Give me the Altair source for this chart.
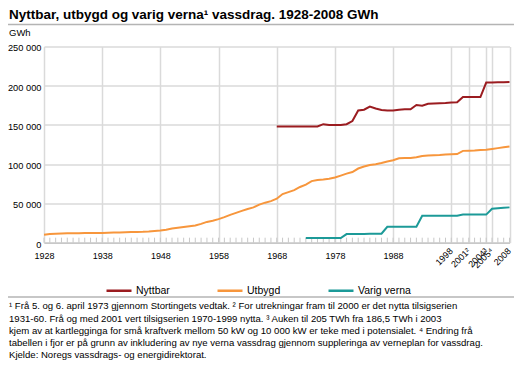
import altair as alt
import pandas as pd

FONT = "Liberation Sans"

years = list(range(1928, 2009))
utbygd = [10000, 11000, 11500, 11800, 12000, 12000, 12100, 12200, 12300, 12400,
          12500, 12700, 12900, 13100, 13300, 13500, 13700, 13900, 14300, 14900,
          15400, 16500, 18000, 19000, 20000, 21000, 22000, 24000, 26500, 28000,
          30000, 32500, 35500, 38000, 40500, 43000, 45000, 48500, 51000, 53000,
          56000, 62000, 64500, 67000, 71000, 74000, 78500, 80000, 80500, 81500,
          83000, 85500, 88000, 90000, 94500, 97000, 99000, 100000, 101500, 103500,
          105000, 107500, 107800, 108000, 108800, 110500, 111200, 111500, 111800, 112300,
          112700, 113000, 117000, 117200, 117500, 118000, 118500, 119500, 120500, 121500,
          122500]

nyttbar_years = list(range(1968, 2009))
nyttbar = [148000, 148000, 148000, 148000, 148000, 148000, 148000, 148000, 151000, 150000,
           150000, 150000, 151000, 155000, 168500, 169500, 173500, 171000, 169000, 168500,
           168500, 169500, 170000, 170000, 175500, 174500, 177000, 177500, 177800, 178000,
           178500, 179000, 185700, 185500, 185500, 185500, 204000, 204200, 204300, 204400,
           204700]

verna_years = list(range(1973, 2009))
verna = [6000, 6000, 6000, 6000, 6000, 6000, 6000,
         11000, 11000, 11100, 11200, 11300, 11400, 11500,
         20300, 20300, 20300, 20300, 20300, 20300,
         34300, 34300, 34300, 34300, 34300, 34300, 34300,
         35800, 35800, 35800, 35800, 35800,
         43200, 44000, 44500, 45000]

series_names = ["Nyttbar", "Utbygd", "Varig verna"]
colors = ["#9b1c20", "#f7963c", "#1c9a98"]

grid_years = [1928, 1938, 1948, 1958, 1968, 1978, 1988, 1998, 2001, 2004, 2005, 2008]
rot_years = [1998, 2001, 2004, 2005, 2008]
rot_labels = ["1998", "2001²", "2004³", "2005⁴", "2008"]
y_ticks = [0, 50000, 100000, 150000, 200000, 250000]

title_text = "Nyttbar, utbygd og varig verna¹ vassdrag. 1928-2008 GWh"
unit_text = "GWh"
footnote_lines = [
    "¹ Frå 5. og 6. april 1973 gjennom Stortingets vedtak. ² For utrekningar fram til 2000 er det nytta tilsigserien",
    "1931-60.  Frå og med 2001 vert tilsigserien 1970-1999 nytta. ³ Auken til 205 TWh fra 186,5 TWh i 2003",
    "kjem av at kartlegginga for små kraftverk mellom 50 kW og 10 000 kW er teke med i potensialet. ⁴ Endring frå",
    "tabellen i fjor er på grunn av inkludering av nye verna vassdrag gjennom suppleringa av verneplan for vassdrag.",
    "Kjelde: Noregs vassdrags- og energidirektorat.",
]

rows = []
for y, v in zip(years, utbygd):
    rows.append({"year": y, "value": v, "series": "Utbygd"})
for y, v in zip(nyttbar_years, nyttbar):
    rows.append({"year": y, "value": v, "series": "Nyttbar"})
for y, v in zip(verna_years, verna):
    rows.append({"year": y, "value": v, "series": "Varig verna"})
df = pd.DataFrame(rows)

W = 465.5
H = 196.2
GRID = "#dadada"

x_enc = alt.X(
    "year:Q",
    scale=alt.Scale(domain=[1928, 2008], nice=False, zero=False),
    axis=alt.Axis(values=grid_years, grid=True, gridColor=GRID, gridWidth=1.5,
                  ticks=False, domain=True, domainColor="#c8c8c8", domainWidth=1.5,
                  format="d", labelExpr="datum.value <= 1990 ? datum.label : ''",
                  labelFont=FONT, labelFontSize=9, labelColor="#000",
                  labelPadding=9, labelFlush=False, labelOverlap=False, title=None),
)

lines = alt.Chart(df).mark_line(strokeWidth=2).encode(
    x=x_enc,
    y=alt.Y("value:Q", scale=alt.Scale(domain=[0, 250000], nice=False),
            axis=alt.Axis(values=y_ticks, grid=True, gridColor=GRID, gridWidth=1.5,
                          ticks=False, domain=False,
                          labelExpr="replace(format(datum.value, ','), regexp(',', 'g'), ' ')",
                          labelFont=FONT, labelFontSize=9.3, labelColor="#000",
                          labelPadding=3, labelOffset=1.5, title=None)),
    color=alt.Color("series:N", scale=alt.Scale(domain=series_names, range=colors),
                    legend=alt.Legend(title=None, orient="none", legendX=61, legendY=230,
                                      direction="horizontal", gridAlign="all",
                                      columnPadding=23, padding=0,
                                      symbolType="stroke", symbolSize=625,
                                      symbolStrokeWidth=2.5, labelFont=FONT,
                                      labelFontSize=10.5, labelColor="#000",
                                      labelOffset=3)),
)

tick_df = pd.DataFrame({"year": years})
ticks = alt.Chart(tick_df).mark_rule(color="#c8c8c8", strokeWidth=1).encode(
    x=x_enc, y=alt.value(H - 5), y2=alt.value(H)
)

rot_df = pd.DataFrame({"year": rot_years, "label": rot_labels})
rot = alt.Chart(rot_df).mark_text(angle=315, align="right", baseline="middle",
                                  font=FONT, fontSize=9, color="#000").encode(
    x=x_enc, y=alt.value(H + 7), text="label:N"
)

one = pd.DataFrame({"t": [title_text]})
title = alt.Chart(one).mark_text(align="left", baseline="alphabetic", font=FONT,
                                 fontSize=13.5, fontWeight="bold", color="#000").encode(
    x=alt.value(-35), y=alt.value(-27.5), text="t:N"
)
unit = alt.Chart(pd.DataFrame({"t": [unit_text]})).mark_text(
    align="left", baseline="middle", font=FONT, fontSize=9.5, color="#000").encode(
    x=alt.value(-35), y=alt.value(-13), text="t:N"
)
rule_top = alt.Chart(one).mark_rule(color="#b4b4b4", strokeWidth=1.5).encode(
    x=alt.value(-36), x2=alt.value(470), y=alt.value(-22)
)
rule_bot = alt.Chart(one).mark_rule(color="#b4b4b4", strokeWidth=1.5).encode(
    x=alt.value(-36), x2=alt.value(470), y=alt.value(250.5)
)
foot = alt.Chart(pd.DataFrame({"t": ["\n".join(footnote_lines)]})).mark_text(
    align="left", baseline="top", font=FONT, fontSize=9.6, color="#000",
    lineBreak="\n", lineHeight=12.2).encode(
    x=alt.value(-35), y=alt.value(255), text="t:N"
)

chart = alt.layer(ticks, lines, rot, title, unit, rule_top, rule_bot, foot).properties(
    width=W, height=H,
    padding={"left": 36, "top": 38.5, "right": 4.5, "bottom": 118},
    autosize=alt.AutoSizeParams(type="none"),
).configure_view(stroke=None)

chart.save("out.html", embed_options={"renderer": "svg", "actions": False})
